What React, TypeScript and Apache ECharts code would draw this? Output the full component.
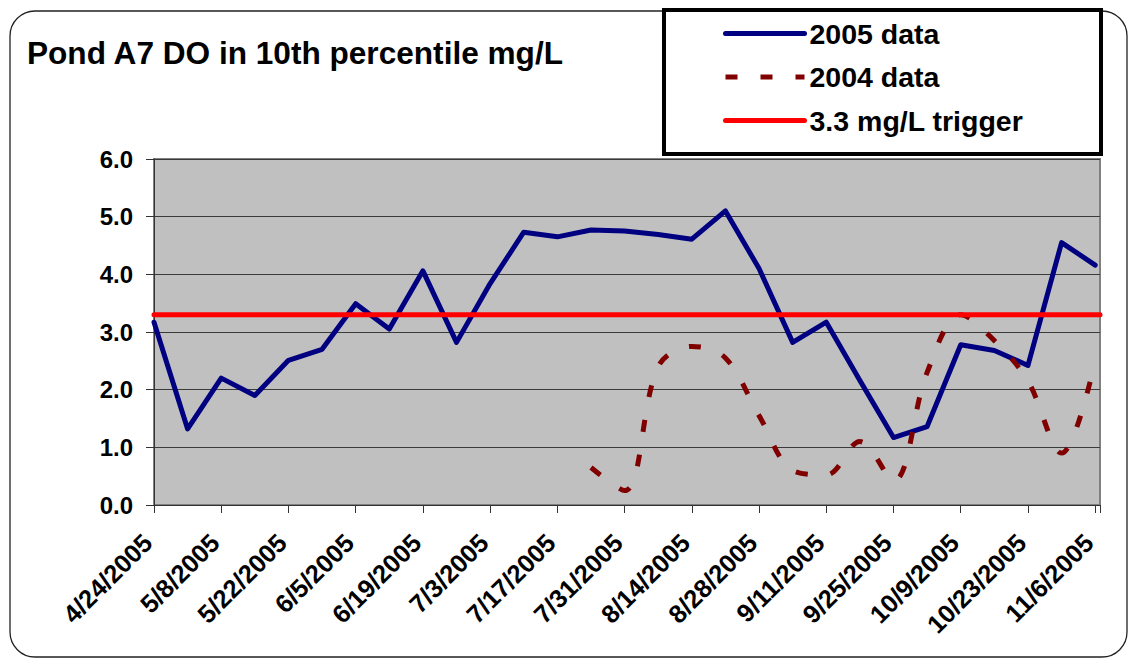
import React, { useEffect, useRef } from "react";
import * as echarts from "echarts";

const TITLE = "Pond A7 DO in 10th percentile mg/L";
const FONT = "'Liberation Sans', Arial, sans-serif";

const AXIS_START = "4/24/2005";
const AXIS_END = "11/7/2005";
const TICK_DAYS = 14;

const xTickLabels = [
  "4/24/2005", "5/8/2005", "5/22/2005", "6/5/2005", "6/19/2005", "7/3/2005", "7/17/2005",
  "7/31/2005", "8/14/2005", "8/28/2005", "9/11/2005", "9/25/2005", "10/9/2005", "10/23/2005", "11/6/2005",
];

const yTicks = [0, 1, 2, 3, 4, 5, 6];

const dates2005 = [
  "4/24/2005", "5/1/2005", "5/8/2005", "5/15/2005", "5/22/2005", "5/29/2005", "6/5/2005",
  "6/12/2005", "6/19/2005", "6/26/2005", "7/3/2005", "7/10/2005", "7/17/2005", "7/24/2005",
  "7/31/2005", "8/7/2005", "8/14/2005", "8/21/2005", "8/28/2005", "9/4/2005", "9/11/2005",
  "9/18/2005", "9/25/2005", "10/2/2005", "10/9/2005", "10/16/2005", "10/23/2005", "10/30/2005", "11/6/2005",
];
const values2005 = [
  3.17, 1.32, 2.2, 1.9, 2.51, 2.7, 3.49,
  3.05, 4.06, 2.82, 3.84, 4.73, 4.65, 4.77,
  4.75, 4.69, 4.61, 5.1, 4.1, 2.82, 3.17,
  2.16, 1.17, 1.36, 2.78, 2.68, 2.42, 4.55, 4.16,
];

const dates2004 = [
  "7/24/2005", "7/31/2005", "8/7/2005", "8/14/2005", "8/21/2005", "8/28/2005", "9/4/2005", "9/11/2005",
  "9/18/2005", "9/25/2005", "10/2/2005", "10/9/2005", "10/16/2005", "10/23/2005", "10/30/2005", "11/6/2005",
];
const values2004 = [
  0.65, 0.25, 2.4, 2.75, 2.55, 1.55, 0.6, 0.52,
  1.1, 0.42, 2.3, 3.3, 2.85, 2.15, 0.9, 2.5,
];

const TRIGGER = 3.3;

const SERIES_NAMES = ["2005 data", "2004 data", "3.3 mg/L trigger"];

function parseDate(s: string): number {
  const [m, d, y] = s.split("/").map(Number);
  return Date.UTC(y, m - 1, d);
}
const DAY = 86400000;
function toDay(s: string): number {
  return Math.round((parseDate(s) - parseDate(AXIS_START)) / DAY);
}

export default function App() {
  const ref = useRef<HTMLDivElement>(null);

  useEffect(() => {
    if (!ref.current) return;
    const chart = echarts.init(ref.current, undefined, { renderer: "svg" });

    const endDay = toDay(AXIS_END);
    const d2005 = dates2005.map((d, i) => [toDay(d), values2005[i]]);
    const d2004 = dates2004.map((d, i) => [toDay(d), values2004[i]]);
    const dTrig = [
      [0, TRIGGER],
      [endDay, TRIGGER],
    ];

    const option: any = {
      animation: false,
      backgroundColor: "#ffffff",
      textStyle: { fontFamily: FONT },
      title: {
        text: TITLE,
        left: 27,
        top: 37,
        padding: 0,
        textStyle: { fontFamily: FONT, fontSize: 31.6, fontWeight: "bold", color: "#000" },
      },
      graphic: [
        {
          type: "rect",
          shape: { x: 10, y: 11, width: 1117, height: 646, r: 25 },
          style: { fill: "none", stroke: "#222", lineWidth: 1.3 },
          z: 0,
          silent: true,
        },
        {
          type: "rect",
          shape: { x: 664, y: 10, width: 437, height: 144 },
          style: { fill: "#fff", stroke: "#000", lineWidth: 4 },
          z: 1,
          silent: true,
        },
      ],
      legend: {
        orient: "vertical",
        left: 723,
        top: 19,
        padding: 0,
        itemWidth: 79,
        itemHeight: 14,
        itemGap: 14.5,
        z: 10,
        data: SERIES_NAMES,
        lineStyle: { width: 5 },
        itemStyle: { opacity: 0 },
        textStyle: {
          fontFamily: FONT,
          fontSize: 28.5,
          fontWeight: "bold",
          color: "#000",
          lineHeight: 28,
        },
      },
      grid: {
        left: 154,
        top: 159,
        right: 30,
        bottom: 154,
        show: true,
        backgroundColor: "#C0C0C0",
        borderColor: "#808080",
        borderWidth: 2,
        containLabel: false,
        outerBoundsMode: "none",
      },
      xAxis: {
        type: "value",
        min: 0,
        max: endDay,
        interval: TICK_DAYS,
        axisLine: { show: true, onZero: false, lineStyle: { color: "#333", width: 1 } },
        axisTick: { show: true, length: 8, lineStyle: { color: "#333" } },
        splitLine: { show: false },
        axisLabel: {
          rotate: 45,
          margin: 27,
          padding: [0, 9, 0, 0],
          fontFamily: FONT,
          fontSize: 25.5,
          fontWeight: "bold",
          color: "#000",
          showMaxLabel: true,
          showMinLabel: true,
          formatter: (v: number) => {
            if (v % TICK_DAYS !== 0) return "";
            return xTickLabels[v / TICK_DAYS] ?? "";
          },
        },
      },
      yAxis: {
        type: "value",
        min: yTicks[0],
        max: yTicks[yTicks.length - 1],
        interval: 1,
        axisLine: { show: true, lineStyle: { color: "#333", width: 1 } },
        axisTick: { show: true, length: 8, lineStyle: { color: "#333" } },
        splitLine: { show: true, lineStyle: { color: "#3a3a3a", width: 1 } },
        axisLabel: {
          margin: 21,
          fontFamily: FONT,
          fontSize: 24,
          fontWeight: "bold",
          color: "#000",
          formatter: (v: number) => v.toFixed(1),
        },
      },
      series: [
        {
          name: SERIES_NAMES[0],
          type: "line",
          data: d2005,
          symbol: "none",
          lineStyle: { color: "#000080", width: 5, cap: "round", join: "round" },
          itemStyle: { color: "#000080" },
          z: 3,
        },
        {
          name: SERIES_NAMES[1],
          type: "line",
          data: d2004,
          symbol: "none",
          smooth: 0.35,
          lineStyle: { color: "#800000", width: 5, type: [12, 23], cap: "butt" },
          itemStyle: { color: "#800000" },
          z: 3,
        },
        {
          name: SERIES_NAMES[2],
          type: "line",
          data: dTrig,
          symbol: "none",
          lineStyle: { color: "#FF0000", width: 5, cap: "round" },
          itemStyle: { color: "#FF0000" },
          z: 4,
        },
      ],
    };

    chart.setOption(option);
    return () => chart.dispose();
  }, []);

  return (
    <div
      ref={ref}
      style={{ position: "absolute", left: 0, top: 0, width: 1130, height: 659, background: "#fff" }}
    />
  );
}
